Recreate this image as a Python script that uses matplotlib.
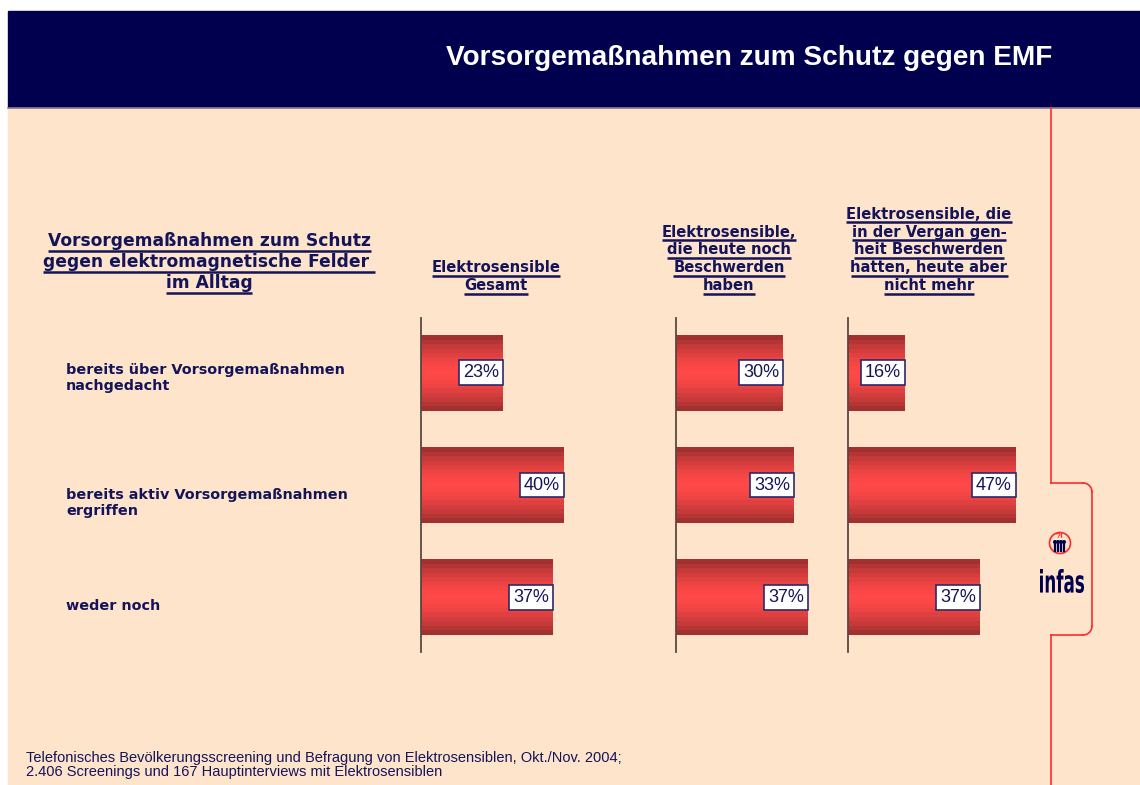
import numpy as np
import matplotlib
matplotlib.use("Agg")
import matplotlib.pyplot as plt
from matplotlib.patches import Rectangle, Circle, PathPatch
from matplotlib.textpath import TextPath
from matplotlib.font_manager import FontProperties
from matplotlib.transforms import Affine2D
from matplotlib.colors import to_rgb

plt.rcParams["font.family"] = ["Liberation Sans", "DejaVu Sans"]

title = "Vorsorgemaßnahmen zum Schutz gegen EMF"
left_heading = ["Vorsorgemaßnahmen zum Schutz",
                "gegen elektromagnetische Felder ",
                "im Alltag"]
row_labels = ["bereits über Vorsorgemaßnahmen\nnachgedacht",
              "bereits aktiv Vorsorgemaßnahmen\nergriffen",
              "weder noch"]
group_titles = [
    ["Elektrosensible", "Gesamt"],
    ["Elektrosensible,", "die heute noch", "Beschwerden", "haben"],
    ["Elektrosensible, die", "in der Vergan gen-", "heit Beschwerden",
     "hatten, heute aber", "nicht mehr"],
]
gesamt = [23, 40, 37]
heute_noch = [30, 33, 37]
frueher = [16, 47, 37]
footer = ("Telefonisches Bevölkerungsscreening und Befragung von Elektrosensiblen, Okt./Nov. 2004;\n"
          "2.406 Screenings und 167 Hauptinterviews mit Elektrosensiblen")

NAVY = "#00004F"
TEXT = "#14145A"
PEACH = "#FDE4CB"
RED = "#FF2A2A"
WIDE = ["DejaVu Sans"]
W, H = 1140, 785

fig = plt.figure(figsize=(W / 100, H / 100), dpi=100, facecolor="white")
bg = fig.add_axes([0, 0, 1, 1])
bg.set_xlim(0, W)
bg.set_ylim(H, 0)
bg.axis("off")

# page background and header band
bg.add_patch(Rectangle((8, 107), W - 8, H - 107, color=PEACH, zorder=0))
bg.add_patch(Rectangle((8, 11), W - 8, 96, color=NAVY, zorder=1))
bg.plot([8, W], [107.5, 107.5], color="#8A7F95", lw=1.2, zorder=2)
bg.text(749, 58, title, color="white", fontsize=20.2, fontweight="bold",
        ha="center", va="center", zorder=3)

# red side line with tab
bx, tx, t0, t1, r = 1051, 1092, 483, 635, 9
bg.plot([bx, bx], [108, t0], color=RED, lw=1.2)
bg.plot([bx, tx - r], [t0, t0], color=RED, lw=1.2)
th = np.linspace(-np.pi / 2, 0, 20)
bg.plot(tx - r + r * np.cos(th), t0 + r + r * np.sin(th), color=RED, lw=1.2)
bg.plot([tx, tx], [t0 + r, t1 - r], color=RED, lw=1.2)
bg.plot(tx - r + r * np.cos(-th), t1 - r + r * np.sin(-th), color=RED, lw=1.2)
bg.plot([tx - r, bx], [t1, t1], color=RED, lw=1.2)
bg.plot([bx, bx], [t1, H], color=RED, lw=1.2)

# infas logo
bg.add_patch(Circle((1060, 543), 10.5, fill=False, ec=RED, lw=1.2))
bg.text(1060, 537, "?!", color=RED, fontsize=6, fontweight="bold",
        ha="center", va="center")
for dx in (-5, -2, 1, 4):
    bg.plot([1060 + dx, 1060 + dx], [544, 551], color=NAVY, lw=1.6)
    bg.add_patch(Circle((1060 + dx, 542), 1.3, color=NAVY))
tp = TextPath((0, 0), "infas", size=10,
              prop=FontProperties(family="DejaVu Sans", weight="bold"))
ext = tp.get_extents()
sx = 44 / ext.width
sy = 24 / ext.height
logo_tr = Affine2D().translate(-ext.x0, -ext.y0).scale(sx, -sy).translate(1040, 593)
bg.add_patch(PathPatch(logo_tr.transform_path(tp), color=NAVY, lw=0))

# headings
underlined = []
for i, line in enumerate(left_heading):
    underlined.append(bg.text(209, 241 + i * 21, line, color=TEXT, fontsize=12.3,
                              fontweight="bold", family=WIDE,
                              ha="center", va="center"))

col_x0 = [421, 676, 848]
col_centers = [496, 729, 929]
for cx, lines in zip(col_centers, group_titles):
    n = len(lines)
    for i, line in enumerate(lines):
        y = 285.5 - (n - 1 - i) * 17.8
        underlined.append(bg.text(cx, y, line, color=TEXT, fontsize=10.6,
                                  fontweight="bold", family=WIDE,
                                  ha="center", va="center"))

row_text_y = [378, 503, 606]
for y, lab in zip(row_text_y, row_labels):
    bg.text(66, y, lab, color=TEXT, fontsize=10.4, fontweight="bold",
            family=WIDE, ha="left", va="center", linespacing=1.2)

bg.text(26, 765, footer, color=TEXT, fontsize=10.5, ha="left", va="center",
        linespacing=0.98)

# bar panels
dark = np.array(to_rgb("#9A2E2E"))
bright = np.array(to_rgb("#FF4848"))
n_stripes = 17
bar_h = 0.67
scale_w = 179  # pixels for 50 %
for x0, vals in zip(col_x0, [gesamt, heute_noch, frueher]):
    ax = fig.add_axes([x0 / W, 1 - 652 / H, scale_w / W, 334 / H])
    ax.set_xlim(0, 50)
    ax.set_ylim(2.49, -0.49)
    ax.patch.set_alpha(0)
    for s in ["top", "right", "bottom"]:
        ax.spines[s].set_visible(False)
    ax.spines["left"].set_color("#5A4A40")
    ax.spines["left"].set_linewidth(1.3)
    ax.set_xticks([])
    ax.set_yticks([])
    pos = np.arange(len(vals))
    sh = bar_h / n_stripes
    for k in range(n_stripes):
        t = abs((k + 0.5) / n_stripes - 0.5) * 2
        col = bright * (1 - t ** 1.6) + dark * t ** 1.6
        off = -bar_h / 2 + (k + 0.5) * sh
        ax.barh(pos + off, vals, height=sh * 1.02, color=col, lw=0)
    ax.barh(pos, [0.35] * len(vals), height=bar_h, color="#A01818", lw=0)
    for p, v in zip(pos, vals):
        ax.text(v - 1.2, p, f"{v}%", ha="right", va="center", color=TEXT,
                fontsize=13,
                bbox=dict(boxstyle="square,pad=0.22", fc="white",
                          ec="#2A2A6A", lw=1.2))

# underline heading texts
fig.canvas.draw()
renderer = fig.canvas.get_renderer()
for t in underlined:
    bb = t.get_window_extent(renderer)
    y = H - bb.y0 + 0.5
    bg.plot([bb.x0, bb.x1], [y, y], color=TEXT, lw=1.8, solid_capstyle="butt")

fig.savefig("out.png", dpi=100)
